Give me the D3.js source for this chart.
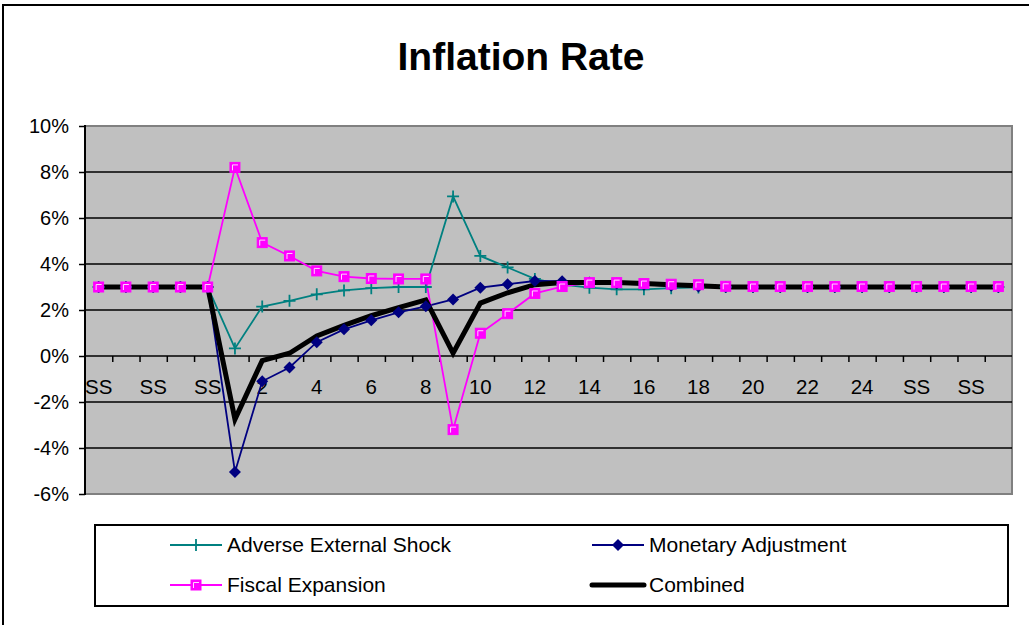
<!DOCTYPE html>
<html>
<head>
<meta charset="utf-8">
<script src="https://cdn.jsdelivr.net/npm/d3@7"></script>
<style>
  body { margin: 0; background: #ffffff; }
  svg { display: block; font-family: Arial, 'Liberation Sans', sans-serif; }
</style>
</head>
<body>
<script>
// categories: 5 steady-state, periods 1..25, 4 steady-state
const categories = ['SS', 'SS', 'SS', 'SS', 'SS']
  .concat(d3.range(1, 26).map(String))
  .concat(['SS', 'SS', 'SS', 'SS']);

const yTicks = [-6, -4, -2, 0, 2, 4, 6, 8, 10];

const adverseShock = [3, 3, 3, 3, 3, 0.33, 2.15, 2.4, 2.68, 2.85, 2.95, 3.0, 3.0, 6.94, 4.35, 3.85,
  3.35, 3.1, 2.97, 2.9, 2.9, 2.95, 2.98, 3, 3, 3, 3, 3, 3, 3, 3, 3, 3, 3];
const monetaryAdj = [3, 3, 3, 3, 3, -5.04, -1.1, -0.5, 0.6, 1.16, 1.55, 1.9, 2.16, 2.46, 2.97, 3.12,
  3.26, 3.25, 3.2, 3.15, 3.1, 3.05, 3.02, 3, 3, 3, 3, 3, 3, 3, 3, 3, 3, 3];
const fiscalExp = [3, 3, 3, 3, 3, 8.2, 4.93, 4.35, 3.7, 3.45, 3.37, 3.35, 3.35, -3.2, 0.99, 1.84,
  2.72, 3.02, 3.19, 3.19, 3.15, 3.12, 3.1, 3.03, 3.02, 3.02, 3.02, 3.02, 3.02, 3.02, 3.02, 3.02, 3.02, 3.02];
const combined = [3, 3, 3, 3, 3, -2.75, -0.2, 0.12, 0.87, 1.33, 1.75, 2.1, 2.44, 0.12, 2.3, 2.75,
  3.1, 3.2, 3.2, 3.2, 3.15, 3.1, 3.05, 3, 3, 3, 3, 3, 3, 3, 3, 3, 3, 3];

const seriesNames = ['Adverse External Shock', 'Monetary Adjustment', 'Fiscal Expansion', 'Combined'];
const seriesColors = ['#008080', '#000080', '#ff00ff', '#000000'];
const seriesMarkers = ['plus', 'diamond', 'square', 'none'];

const W = 1029, H = 625;
const plot = { left: 85, right: 1012, top: 126, bottom: 494 };

const svg = d3.select('body').append('svg')
  .attr('width', W)
  .attr('height', H);

// outer chart border (runs off the right / bottom edge)
svg.append('rect')
  .attr('x', 3).attr('y', 5)
  .attr('width', W + 10).attr('height', H + 10)
  .attr('fill', '#ffffff')
  .attr('stroke', '#000000')
  .attr('stroke-width', 2);

svg.append('text')
  .attr('x', 521).attr('y', 70)
  .attr('text-anchor', 'middle')
  .style('font-size', '39px')
  .style('font-weight', 'bold')
  .text('Inflation Rate');

const x = d3.scaleBand().domain(d3.range(categories.length)).range([plot.left, plot.right]);
const xEdge = d3.scaleLinear().domain([0, categories.length]).range([plot.left, plot.right]);
const y = d3.scaleLinear().domain([-6, 10]).range([plot.bottom, plot.top]);
const cx = i => x(i) + x.bandwidth() / 2;

// plot background
svg.append('rect')
  .attr('x', plot.left).attr('y', plot.top)
  .attr('width', plot.right - plot.left).attr('height', plot.bottom - plot.top)
  .attr('fill', '#c0c0c0')
  .attr('stroke', '#808080')
  .attr('stroke-width', 2);

// gridlines
svg.append('g')
  .selectAll('line')
  .data(yTicks.filter(d => d > -6 && d < 10))
  .enter()
  .append('line')
  .attr('x1', plot.left).attr('x2', plot.right)
  .attr('y1', d => y(d)).attr('y2', d => y(d))
  .attr('stroke', '#000000')
  .attr('stroke-width', 1.5);

// y axis
const yAxis = svg.append('g')
  .attr('transform', `translate(${plot.left},0)`)
  .call(d3.axisLeft(y).tickValues(yTicks).tickFormat(d => d + '%').tickSize(6).tickPadding(10));
yAxis.select('.domain').remove();
yAxis.selectAll('line').attr('stroke', '#000').attr('stroke-width', 1.5);
yAxis.selectAll('text').style('font-size', '20px').attr('fill', '#000');
svg.append('line')
  .attr('x1', plot.left).attr('x2', plot.left)
  .attr('y1', plot.top - 1).attr('y2', plot.bottom + 1)
  .attr('stroke', '#000').attr('stroke-width', 2);

// x axis ticks at the 0% line
const xTickAxis = svg.append('g')
  .attr('transform', `translate(0,${y(0)})`)
  .call(d3.axisBottom(xEdge).tickValues(d3.range(1, categories.length)).tickFormat('').tickSize(6));
xTickAxis.select('.domain').remove();
xTickAxis.selectAll('line').attr('stroke', '#000').attr('stroke-width', 1.5);

// x labels, every second category
const xLabelAxis = svg.append('g')
  .attr('transform', `translate(0,${y(0)})`)
  .call(d3.axisBottom(x)
    .tickValues(d3.range(0, categories.length, 2))
    .tickFormat(i => categories[i])
    .tickSize(0)
    .tickPadding(23));
xLabelAxis.select('.domain').remove();
xLabelAxis.selectAll('text').style('font-size', '20.5px').attr('fill', '#000');

const allSeries = [adverseShock, monetaryAdj, fiscalExp, combined];
const lineGen = d3.line().x((d, i) => cx(i)).y(d => y(d));

// lines first (series order), then markers
const lines = svg.append('g');
allSeries.forEach((values, s) => {
  lines.append('path')
    .datum(values)
    .attr('d', lineGen)
    .attr('fill', 'none')
    .attr('stroke', seriesColors[s])
    .attr('stroke-width', s === 3 ? 5 : 1.8)
    .attr('stroke-linejoin', 'miter');
});

function drawMarker(g, type, px, py, color) {
  if (type === 'plus') {
    g.append('path')
      .attr('d', `M${px - 6},${py}H${px + 6}M${px},${py - 6}V${py + 6}`)
      .attr('stroke', color).attr('stroke-width', 1.8).attr('fill', 'none');
  } else if (type === 'diamond') {
    g.append('path')
      .attr('d', `M${px},${py - 6}L${px + 6},${py}L${px},${py + 6}L${px - 6},${py}Z`)
      .attr('fill', color);
  } else if (type === 'square') {
    g.append('rect')
      .attr('x', px - 5).attr('y', py - 5)
      .attr('width', 10).attr('height', 10)
      .attr('fill', color).attr('stroke', color).attr('stroke-width', 1);
    g.append('path')
      .attr('d', `M${px - 2.5},${py + 3}V${py - 2.5}H${px + 3}`)
      .attr('stroke', '#ffd8ff').attr('stroke-width', 1).attr('fill', 'none');
  }
}

const markers = svg.append('g');
allSeries.forEach((values, s) => {
  if (seriesMarkers[s] === 'none') return;
  values.forEach((v, i) => drawMarker(markers, seriesMarkers[s], cx(i), y(v), seriesColors[s]));
});

// legend
const legend = svg.append('g');
legend.append('rect')
  .attr('x', 95).attr('y', 525)
  .attr('width', 913).attr('height', 81)
  .attr('fill', '#ffffff')
  .attr('stroke', '#000000')
  .attr('stroke-width', 2);

const legendPos = [[170, 545], [592, 545], [170, 585], [592, 585]];
seriesNames.forEach((name, s) => {
  const [lx, ly] = legendPos[s];
  legend.append('line')
    .attr('x1', lx).attr('x2', lx + 52)
    .attr('y1', ly).attr('y2', ly)
    .attr('stroke', seriesColors[s])
    .attr('stroke-width', s === 3 ? 5 : 1.8)
    .attr('stroke-linecap', s === 3 ? 'round' : 'butt');
  drawMarker(legend, seriesMarkers[s], lx + 26, ly, seriesColors[s]);
  legend.append('text')
    .attr('x', lx + 57).attr('y', ly)
    .attr('dy', '0.35em')
    .style('font-size', '21px')
    .text(name);
});
</script>
</body>
</html>
